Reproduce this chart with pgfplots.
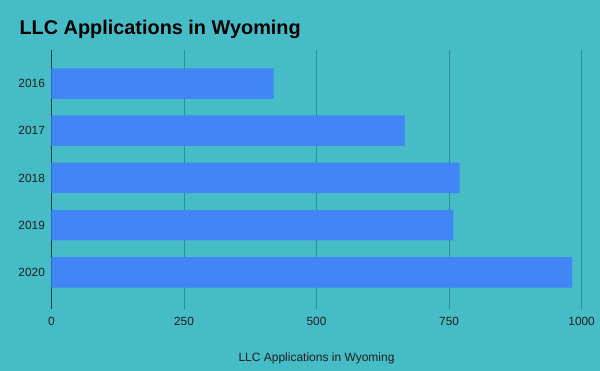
\documentclass[border=0pt]{standalone}
\usepackage{fontspec}
\setmainfont{Liberation Sans}
\usepackage{pgfplots}
\pgfplotsset{compat=1.18}
\definecolor{bg}{HTML}{46BDC6}
\definecolor{barc}{HTML}{4285F4}
\definecolor{gridc}{HTML}{2E8E94}
\definecolor{zeroc}{HTML}{143F42}
\definecolor{txt}{HTML}{1E1E1E}
\begin{document}
\begin{tikzpicture}
\useasboundingbox (0,0) rectangle (450pt,-278.25pt);
\fill[bg] (0,0) rectangle (450pt,-278.25pt);
\node[anchor=base west, font=\fontsize{14.9}{17}\selectfont\bfseries, text=black, inner sep=0pt] at (14.5pt,-25.5pt) {LLC Applications in Wyoming};
\begin{axis}[
  at={(38.6pt,-37.5pt)}, anchor=north west,
  scale only axis, width=397.6pt, height=194pt,
  xbar, bar width=22.9pt,
  xmin=0, xmax=1000, ymin=-0.71, ymax=4.77,
  y dir=reverse,
  enlargelimits=false,
  axis line style={draw=none},
  xtick={250,500,750,1000},
  extra x ticks={0},
  extra x tick style={grid style={zeroc, line width=0.9pt}},
  xmajorgrids,
  grid style={gridc, line width=0.75pt},
  major tick length=0pt,
  ytick={0,1,2,3,4},
  yticklabels={2016,2017,2018,2019,2020},
  tick label style={font=\fontsize{8.9}{11}\selectfont, text=txt},
  /pgf/number format/assume math mode=true,
  /pgf/number format/1000 sep={},
  xticklabel style={yshift=-3pt},
  yticklabel style={xshift=-1.4pt},
  xlabel={LLC Applications in Wyoming},
  xlabel style={font=\fontsize{9}{11}\selectfont, text=txt, at={(axis description cs:0.5,0)}, anchor=base, yshift=-39.6pt},
]
\addplot[fill=barc, draw=none] coordinates {(419,0) (666,1) (770,2) (758,3) (982,4)};
\end{axis}
\end{tikzpicture}
\end{document}
